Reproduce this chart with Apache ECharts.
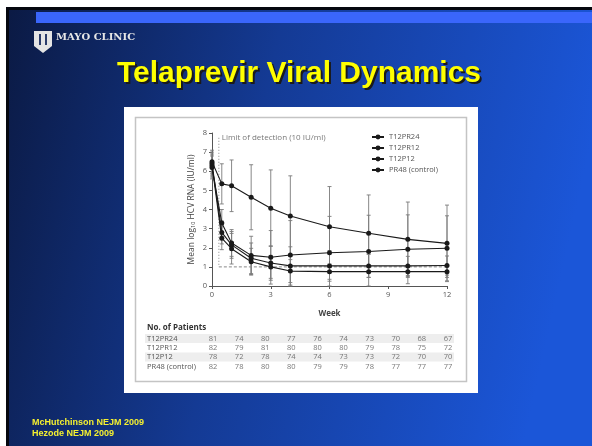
<!DOCTYPE html>
<html>
<head>
<meta charset="utf-8">
<script src="https://cdn.jsdelivr.net/npm/echarts@6/dist/echarts.min.js"></script>
<style>
  html, body { margin: 0; padding: 0; background: #fff; }
  #chart { width: 592px; height: 446px; }
</style>
</head>
<body>
<div id="chart"></div>
<script>
// weeks where the means were measured
const weeks = [0, 0.5, 1, 2, 3, 4, 6, 8, 10, 12]

// mean log10 HCV RNA per group
const t12pr24 = [6.4, 2.8, 2.15, 1.45, 1.2, 1.05, 1.05, 1.05, 1.05, 1.07]
const t12pr12 = [6.3, 2.5, 1.95, 1.27, 1.0, 0.78, 0.75, 0.75, 0.75, 0.75]
const t12p12 = [6.2, 3.3, 2.25, 1.6, 1.5, 1.62, 1.74, 1.8, 1.92, 1.97]
const pr48 = [6.5, 5.34, 5.24, 4.64, 4.07, 3.66, 3.1, 2.76, 2.44, 2.23]

// error bar half widths (SD)
const t12pr24Sd = [0.6, 0.6, 0.7, 0.8, 0.9, 1.0, 0.8, 0.6, 0.5, 0.5]
const t12pr12Sd = [0.6, 0.6, 0.8, 0.7, 0.6, 0.6, 0.4, 0.3, 0.3, 0.3]
const t12p12Sd = [0.6, 0.7, 0.7, 1.0, 1.4, 1.8, 1.9, 1.9, 1.8, 1.7]
const pr48Sd = [0.6, 1.05, 1.35, 1.7, 2.0, 2.1, 2.1, 2.0, 1.95, 2.0]

// limit of detection
const lodLevel = 1
const lodWeek = 0.35
const lodTop = 7.75
const lodText = 'Limit of detection (10 IU/ml)'

// patient counts table
const groupNames = ['T12PR24', 'T12PR12', 'T12P12', 'PR48 (control)']
const patientCols = ['0', '0.5', '1', '2', '3', '4', '6', '8', '10', '12']
const pT12pr24 = [81, 74, 80, 77, 76, 74, 73, 70, 68, 67]
const pT12pr12 = [82, 79, 81, 80, 80, 80, 79, 78, 75, 72]
const pT12p12 = [78, 72, 78, 74, 74, 73, 73, 72, 70, 70]
const pPr48 = [82, 78, 80, 80, 79, 79, 78, 77, 77, 77]

const yTicks = [0, 8, 1]
const xTicks = [0, 12, 3]

const chartFont = 'Open Sans'
const slideFont = 'Liberation Sans'

const means = [t12pr24, t12pr12, t12p12, pr48]
const sds = [t12pr24Sd, t12pr12Sd, t12p12Sd, pr48Sd]
const patients = [pT12pr24, pT12pr12, pT12p12, pPr48]

const pairs = arr => weeks.map((w, i) => [w, arr[i]])

// error bar: vertical line + caps
const renderErr = (params, api) => {
  const x = api.value(0)
  const p1 = api.coord([x, api.value(2)])
  const p2 = api.coord([x, api.value(1)])
  const w = 2
  const st = { stroke: '#7a7a7a', lineWidth: 0.9 }
  return {
    type: 'group',
    children: [
      { type: 'line', shape: { x1: p1[0], y1: p1[1], x2: p2[0], y2: p2[1] }, style: st },
      { type: 'line', shape: { x1: p1[0] - w, y1: p1[1], x2: p1[0] + w, y2: p1[1] }, style: st },
      { type: 'line', shape: { x1: p2[0] - w, y1: p2[1], x2: p2[0] + w, y2: p2[1] }, style: st }
    ]
  }
}

const errSeries = means.map((m, k) => ({
  type: 'custom',
  name: 'err' + k,
  xAxisIndex: 0,
  yAxisIndex: 0,
  renderItem: renderErr,
  encode: { x: 0, y: [1, 2] },
  data: weeks.map((w, i) => [w, Math.max(0, m[i] - sds[k][i]), m[i] + sds[k][i]]),
  z: 1,
  silent: true
}))

const lineSeries = means.map((m, k) => ({
  type: 'line',
  name: groupNames[k],
  xAxisIndex: 0,
  yAxisIndex: 0,
  data: pairs(m),
  symbol: 'circle',
  symbolSize: 5,
  lineStyle: { color: '#1a1a1a', width: 1.1 },
  itemStyle: { color: '#1a1a1a' },
  z: 3
}))

const tableData = []
patients.forEach((row, r) => {
  row.forEach((v, c) => tableData.push([c, r, v]))
})

const chart = echarts.init(document.getElementById('chart'))

const option = {
  animation: false,
  graphic: [
    // slide background
    { type: 'rect', z: -20, shape: { x: 0, y: 0, width: 592, height: 446 }, style: { fill: '#ffffff' } },
    { type: 'rect', z: -19, shape: { x: 6, y: 7, width: 586, height: 439 }, style: { fill: '#05070f' } },
    {
      type: 'rect', z: -18, shape: { x: 9, y: 10, width: 583, height: 436 },
      style: {
        fill: new echarts.graphic.LinearGradient(0, 0, 1, 0.3, [
          { offset: 0, color: '#0b1a44' },
          { offset: 0.45, color: '#143a94' },
          { offset: 1, color: '#1b56d8' }
        ])
      }
    },
    { type: 'rect', z: -17, shape: { x: 36, y: 12, width: 556, height: 11 }, style: { fill: '#3a66fb' } },
    // logo
    {
      type: 'polygon', z: -17,
      shape: { points: [[34, 31], [52, 31], [52, 46], [43, 53], [34, 46]] },
      style: { fill: '#e4e4e4' }
    },
    { type: 'rect', z: -16, shape: { x: 39, y: 34, width: 2, height: 11 }, style: { fill: '#2a3b6a' } },
    { type: 'rect', z: -16, shape: { x: 45, y: 34, width: 2, height: 11 }, style: { fill: '#2a3b6a' } },
    {
      type: 'text', z: -17, x: 56, y: 37,
      style: { text: 'MAYO CLINIC', fill: '#e6e6e6', font: 'bold 10px "DejaVu Serif"', textVerticalAlign: 'middle' }
    },
    // title with shadow
    {
      type: 'text', z: -17, x: 301, y: 76,
      style: { text: 'Telaprevir Viral Dynamics', fill: '#1a1a1a', font: 'bold 30px "' + slideFont + '"', textAlign: 'center', textVerticalAlign: 'middle' }
    },
    {
      type: 'text', z: -16, x: 299, y: 74,
      style: { text: 'Telaprevir Viral Dynamics', fill: '#ffff00', font: 'bold 30px "' + slideFont + '"', textAlign: 'center', textVerticalAlign: 'middle' }
    },
    // footnotes
    {
      type: 'text', z: -17, x: 32, y: 423,
      style: { text: 'McHutchinson NEJM 2009', fill: '#f4f030', font: 'bold 9px "' + slideFont + '"', textVerticalAlign: 'middle' }
    },
    {
      type: 'text', z: -17, x: 32, y: 434,
      style: { text: 'Hezode NEJM 2009', fill: '#f4f030', font: 'bold 9px "' + slideFont + '"', textVerticalAlign: 'middle' }
    },
    // white figure panel
    { type: 'rect', z: -15, shape: { x: 124, y: 107, width: 354, height: 286 }, style: { fill: '#ffffff' } },
    { type: 'rect', z: -14, shape: { x: 135.5, y: 117.5, width: 331, height: 264 }, style: { fill: '#ffffff', stroke: '#c4c4c4', lineWidth: 1.5 } },
    // table stripes
    { type: 'rect', z: -13, shape: { x: 145, y: 334, width: 309, height: 9 }, style: { fill: '#eeeeee' } },
    { type: 'rect', z: -13, shape: { x: 145, y: 352.5, width: 309, height: 9 }, style: { fill: '#eeeeee' } },
    {
      type: 'text', z: -12, x: 147, y: 328,
      style: { text: 'No. of Patients', fill: '#333', font: 'bold 8px "' + chartFont + '"', textVerticalAlign: 'middle' }
    }
  ],
  legend: {
    data: groupNames,
    orient: 'vertical',
    left: 366,
    top: 128,
    itemWidth: 12,
    itemHeight: 6,
    itemGap: 3,
    textStyle: { fontSize: 7.5, color: '#555', fontFamily: chartFont }
  },
  grid: [
    { left: 212, right: 145, top: 133, bottom: 160 },
    { left: 200, top: 334, width: 261, height: 37 }
  ],
  xAxis: [
    {
      gridIndex: 0,
      type: 'value',
      min: xTicks[0],
      max: xTicks[1],
      interval: xTicks[2],
      name: 'Week',
      nameLocation: 'middle',
      nameGap: 24,
      nameTextStyle: { fontSize: 8, fontWeight: 'bold', color: '#444', fontFamily: chartFont },
      axisLine: { lineStyle: { color: '#555', width: 1 } },
      axisTick: { length: 3, lineStyle: { color: '#555' } },
      axisLabel: { fontSize: 7.5, color: '#555', margin: 5, fontFamily: chartFont },
      splitLine: { show: false }
    },
    {
      gridIndex: 1,
      type: 'category',
      data: patientCols,
      show: false
    }
  ],
  yAxis: [
    {
      gridIndex: 0,
      type: 'value',
      min: yTicks[0],
      max: yTicks[1],
      interval: yTicks[2],
      name: 'Mean log{s|10} HCV RNA (IU/ml)',
      nameLocation: 'middle',
      nameGap: 16,
      nameTextStyle: {
        fontSize: 8.5, color: '#444', fontFamily: chartFont,
        rich: { s: { fontSize: 5.5, verticalAlign: 'bottom', color: '#444', fontFamily: chartFont } }
      },
      axisLine: { show: true, lineStyle: { color: '#555', width: 1 } },
      axisTick: { show: true, length: 3, lineStyle: { color: '#555' } },
      axisLabel: { fontSize: 7.5, color: '#555', margin: 5, fontFamily: chartFont },
      splitLine: { show: false }
    },
    {
      gridIndex: 1,
      type: 'category',
      data: groupNames,
      inverse: true,
      axisLine: { show: false },
      axisTick: { show: false },
      axisLabel: { interval: 0, align: 'left', margin: 53, fontSize: 7.5, color: '#555', fontFamily: chartFont },
      splitLine: { show: false }
    }
  ],
  series: [
    ...errSeries,
    {
      type: 'line',
      name: 'lodV',
      data: [[lodWeek, lodTop], [lodWeek, lodLevel]],
      symbol: 'none',
      lineStyle: { color: '#888', width: 1, type: [1, 2] },
      silent: true,
      z: 2
    },
    {
      type: 'line',
      name: 'lodH',
      data: [[lodWeek, lodLevel], [xTicks[1], lodLevel]],
      symbol: 'none',
      lineStyle: { color: '#888', width: 1, type: [3, 2] },
      silent: true,
      z: 2
    },
    {
      type: 'scatter',
      name: 'lodLabel',
      data: [[lodWeek + 0.15, lodTop]],
      symbolSize: 0,
      silent: true,
      label: {
        show: true,
        position: 'right',
        distance: 0,
        formatter: lodText,
        fontSize: 8,
        color: '#555',
        fontFamily: chartFont
      }
    },
    ...lineSeries,
    {
      type: 'scatter',
      name: 'patients',
      xAxisIndex: 1,
      yAxisIndex: 1,
      data: tableData,
      symbolSize: 0,
      silent: true,
      label: {
        show: true,
        position: 'inside',
        formatter: p => p.value[2],
        fontSize: 7.5,
        color: '#555',
        fontFamily: chartFont
      }
    }
  ]
}

chart.setOption(option)
</script>
</body>
</html>
